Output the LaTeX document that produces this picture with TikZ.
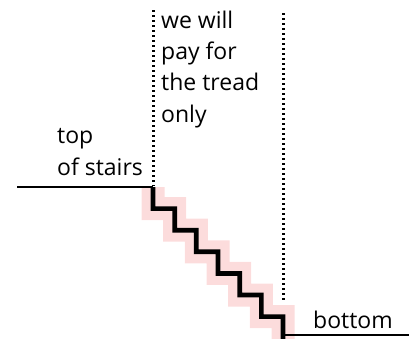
\documentclass[tikz,border=0pt]{standalone}
\usepackage{fontspec}
\setmainfont{Open Sans}
\begin{document}
\begin{tikzpicture}[x=1pt,y=-1pt,
  lbl/.style={font=\fontsize{23}{31.3}\selectfont, align=left, inner sep=0pt, anchor=base west},
  dotline/.style={line width=3pt, dash pattern=on 2.2pt off 2.8pt},
  thinline/.style={line width=1.5pt}]
\useasboundingbox (0,0) rectangle (409,338);
% staircase coordinates
\coordinate (s0) at (153,187);
\coordinate (s7) at (283,340);
\def\stairpath{(s0) -- ++(0,21.6) -- ++(21.67,0) -- ++(0,21.6) -- ++(21.67,0) -- ++(0,21.6) -- ++(21.67,0) -- ++(0,21.6) -- ++(21.67,0) -- ++(0,21.6) -- ++(21.67,0) -- ++(0,21.6) -- ++(21.67,0) -- (s7)}
\draw[line width=23pt, color={rgb,255:red,252;green,220;blue,220}, miter limit=10] \stairpath;
\draw[line width=4.7pt, line join=miter] \stairpath;
% lines
\coordinate (tl) at (17,187);
\draw[thinline] (tl) -- (s0);
\coordinate (br) at (409,335);
\coordinate (b0) at (283,335);
\draw[thinline] (b0) -- (br);
% dotted boundaries
\coordinate (d1a) at (153,10);
\coordinate (d1b) at (153,186);
\coordinate (d2a) at (283,13);
\coordinate (d2b) at (283,302);
\draw[dotline] (d1a) -- (d1b);
\draw[dotline] (d2a) -- (d2b);
% labels
\node[lbl] (pay) at (161,122) {we will\\pay for\\the tread\\only};
\node[lbl] (top) at (57,175) {top\\of stairs};
\node[lbl] (bot) at (313,328) {bottom};
\end{tikzpicture}
\end{document}
